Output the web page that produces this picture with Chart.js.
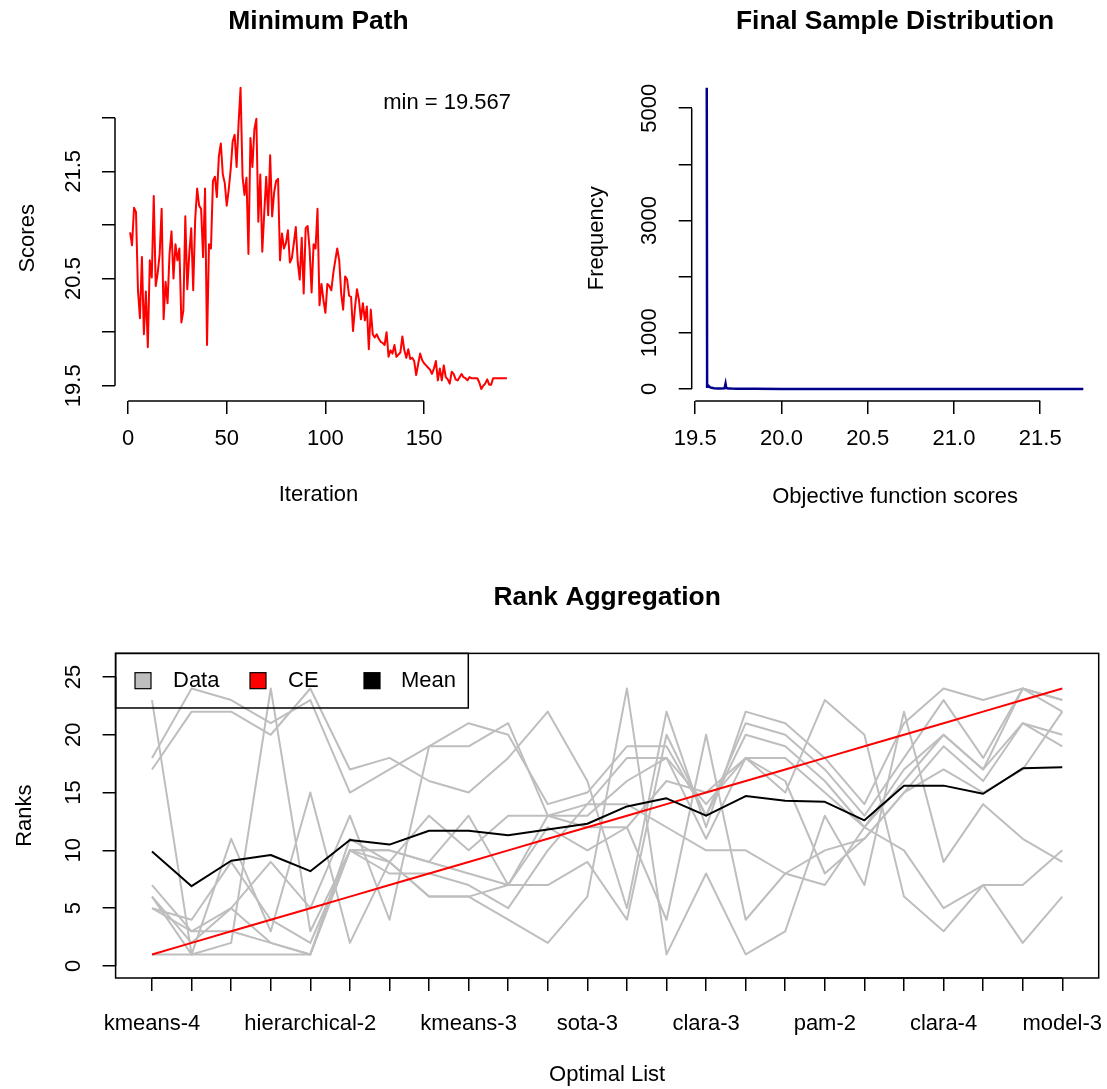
<!DOCTYPE html>
<html>
<head>
<meta charset="utf-8">
<title>Rank Aggregation</title>
<script src="https://cdn.jsdelivr.net/npm/chart.js@4.4.1/dist/chart.umd.min.js"></script>
<style>
	html, body {margin:0; padding:0; background:#fff;}
	#page {position:relative; width:1107px; height:1089px;}
	canvas {position:absolute;}
</style>
</head>
<body>
<div id="page">
	<canvas id="pathChart" width="553" height="545" style="left:0;top:0"></canvas>
	<canvas id="distChart" width="554" height="545" style="left:553px;top:0"></canvas>
	<canvas id="rankChart" width="1107" height="544" style="left:0;top:545px"></canvas>
</div>
<script>
//minimum score at each iteration
var minPath = [
	20.93, 20.81, 21.16, 21.12, 20.39, 20.13, 20.70, 19.98, 20.38, 19.86,
	20.67, 20.51, 21.27, 20.43, 20.55, 20.73, 21.15, 20.12, 20.47, 20.27,
	20.73, 20.94, 20.50, 20.82, 20.67, 20.78, 20.09, 20.20, 21.08, 20.40,
	20.73, 20.97, 20.39, 21.05, 21.34, 21.18, 21.15, 20.70, 21.34, 19.88,
	20.82, 20.78, 21.41, 21.45, 21.26, 21.64, 21.76, 21.47, 21.39, 21.18,
	21.33, 21.52, 21.78, 21.84, 21.54, 21.95, 22.28, 21.45, 21.28, 21.44,
	20.73, 21.81, 21.54, 21.89, 21.99, 21.03, 21.47, 20.75, 21.11, 21.45,
	21.09, 21.65, 21.08, 21.30, 21.41, 21.43, 20.67, 20.92, 20.78, 20.83,
	20.95, 20.65, 20.69, 20.83, 20.98, 20.65, 20.49, 20.88, 20.36, 20.97,
	20.99, 20.77, 20.37, 20.82, 20.78, 21.15, 20.25, 20.45, 20.30, 20.18,
	20.45, 20.43, 20.39, 20.55, 20.67, 20.78, 20.67, 20.36, 20.21, 20.52,
	20.49, 20.34, 20.33, 20.01, 20.23, 20.40, 20.30, 20.12, 20.27, 20.11,
	20.24, 19.84, 20.21, 19.98, 19.95, 19.98, 19.94, 19.91, 19.90, 19.88,
	20.00, 19.77, 19.83, 19.80, 19.88, 19.77, 19.79, 19.81, 19.96, 19.83,
	19.76, 19.84, 19.75, 19.76, 19.73, 19.60, 19.70, 19.80, 19.74, 19.71,
	19.69, 19.67, 19.65, 19.61, 19.66, 19.73, 19.55, 19.66, 19.55, 19.69,
	19.58, 19.56, 19.52, 19.63, 19.61, 19.56, 19.55, 19.58, 19.61, 19.58,
	19.57, 19.55, 19.58, 19.57, 19.57, 19.57, 19.57, 19.53, 19.47, 19.50,
	19.52, 19.56, 19.51, 19.51, 19.57, 19.57, 19.57, 19.57, 19.57, 19.57,
	19.57, 19.57
];
var minNote = 'min = 19.567';
var iterTicks = [0, 50, 100, 150];
var scoreTicks = [19.5, 20.0, 20.5, 21.0, 21.5, 22.0];
var scoreLabels = [19.5, 20.5, 21.5];

//final sample: score and how often it was seen
var sampleScores = [19.567, 19.569, 19.572, 19.578, 19.585, 19.595, 19.61, 19.63, 19.65, 19.67, 19.676, 19.68, 19.69, 19.71, 19.74, 19.78, 19.85, 20.0, 20.5, 21.0, 21.5, 21.75];
var sampleFreq = [5364, 40, 70, 55, 30, 20, 14, 10, 8, 12, 95, 20, 10, 6, 4, 3, 2, 1, 1, 1, 1, 1];
var objTicks = [19.5, 20.0, 20.5, 21.0, 21.5];
var freqTicks = [0, 1000, 2000, 3000, 4000, 5000];
var freqLabels = [0, 1000, 3000, 5000];

//rank aggregation, one array per input list
var listNames = ['kmeans-4', '', '', '', 'hierarchical-2', '', '', '', 'kmeans-3', '', '', 'sota-3',
	'', '', 'clara-3', '', '', 'pam-2', '', '', 'clara-4', '', '', 'model-3'];
var list1 = [23, 1, 11, 3, 15, 2, 9, 13, 10, 13, 13, 13, 16, 18, 11, 18, 16, 8, 11, 15, 19, 16, 21, 19];
var list2 = [18, 24, 23, 21, 23, 15, 17, 19, 21, 20, 14, 15, 19, 19, 13, 20, 19, 16, 12, 17, 20, 17, 24, 23];
var list3 = [17, 22, 22, 20, 24, 17, 18, 16, 15, 18, 22, 16, 5, 22, 12, 22, 21, 18, 14, 21, 24, 23, 24, 23];
var list4 = [7, 3, 5, 9, 5, 13, 4, 19, 19, 21, 13, 14, 14, 12, 10, 10, 8, 7, 12, 10, 5, 7, 2, 6];
var list5 = [6, 1, 2, 24, 3, 10, 10, 9, 13, 7, 12, 10, 12, 16, 15, 18, 15, 23, 20, 6, 3, 7, 7, 10];
var list6 = [6, 2, 5, 2, 1, 11, 9, 6, 6, 4, 2, 6, 24, 1, 8, 1, 3, 13, 7, 22, 9, 14, 11, 9];
var list7 = [5, 4, 9, 4, 2, 10, 8, 8, 7, 5, 10, 14, 18, 18, 14, 18, 18, 15, 12, 16, 20, 17, 21, 20];
var list8 = [5, 3, 3, 2, 1, 10, 10, 9, 8, 7, 7, 9, 4, 20, 13, 21, 20, 17, 13, 18, 23, 18, 24, 22];
var list9 = [1, 1, 1, 1, 1, 10, 9, 6, 6, 7, 13, 12, 12, 4, 20, 4, 8, 10, 11, 15, 17, 15, 17, 22];
var ceRanks = [1, 2, 3, 4, 5, 6, 7, 8, 9, 10, 11, 12, 13, 14, 15, 16, 17, 18, 19, 20, 21, 22, 23, 24];
var meanRanks = [9.9, 6.9, 9.1, 9.6, 8.2, 10.9, 10.5, 11.7, 11.7, 11.3, 11.8, 12.3, 13.8, 14.5, 13.0, 14.7, 14.3, 14.2, 12.6, 15.6, 15.6, 14.9, 17.1, 17.2];
var rankTicks = [0, 5, 10, 15, 20, 25];
var rankLegend = [
	{label:'Data', color:'#BEBEBE'},
	{label:'CE', color:'#FF0000'},
	{label:'Mean', color:'#000000'}
];

var FONT = "'Liberation Sans', Arial, Helvetica, sans-serif";
Chart.defaults.font.family = FONT;
Chart.defaults.font.size = 22;
Chart.defaults.color = '#000';
Chart.defaults.animation = false;
Chart.defaults.plugins.legend.display = false;
Chart.defaults.plugins.tooltip.enabled = false;

//R pads the data range by 4% on each side
function rRange(lo, hi) {
	var d = (hi - lo) * 0.04;
	return [lo - d, hi + d];
}
function fixSize(px) {
	return function (s) {
		if (s.isHorizontal()) s.height = px; else s.width = px;
		s.paddingLeft = s.paddingRight = s.paddingTop = s.paddingBottom = 0;
	};
}
function useTicks(vals) {
	return function (s) {
		s.ticks = vals.map(function (v) { return {value:v}; });
	};
}
function toPoints(xs, ys) {
	return ys.map(function (v, i) { return {x:xs[i], y:v}; });
}
function seq(n) {
	var a = [];
	for (var i = 1; i <= n; i++) a.push(i);
	return a;
}
//axis line only from first to last tick, like R
var rAxisLine = {
	id:'rAxisLine',
	afterDraw:function (chart) {
		var ctx = chart.ctx;
		ctx.save();
		ctx.strokeStyle = '#000';
		ctx.lineWidth = 1.5;
		['x', 'y'].forEach(function (id) {
			var s = chart.scales[id];
			var t = s.ticks;
			var a = s.getPixelForValue(t[0].value);
			var b = s.getPixelForValue(t[t.length - 1].value);
			ctx.beginPath();
			if (id === 'x') { ctx.moveTo(a, s.top); ctx.lineTo(b, s.top); }
			else { ctx.moveTo(s.right, a); ctx.lineTo(s.right, b); }
			ctx.stroke();
		});
		ctx.restore();
	}
};
var cornerNote = {
	id:'cornerNote',
	afterDraw:function (chart, args, opts) {
		if (!opts.text) return;
		var ctx = chart.ctx, a = chart.chartArea;
		ctx.save();
		ctx.font = '22px ' + FONT;
		ctx.fillStyle = '#000';
		ctx.textAlign = 'right';
		ctx.textBaseline = 'middle';
		ctx.fillText(opts.text, a.right - 11, a.top + 27);
		ctx.restore();
	}
};
var boxLegend = {
	id:'boxLegend',
	afterDraw:function (chart, args, opts) {
		var ctx = chart.ctx, a = chart.chartArea;
		ctx.save();
		ctx.strokeStyle = '#000';
		ctx.lineWidth = 1.5;
		ctx.strokeRect(a.left, a.top, a.right - a.left, a.bottom - a.top);
		ctx.strokeRect(a.left, a.top, opts.width, opts.height);
		ctx.font = '22px ' + FONT;
		ctx.textBaseline = 'middle';
		ctx.textAlign = 'left';
		var cy = a.top + opts.height / 2;
		opts.items.forEach(function (it, i) {
			var x = a.left + opts.boxX[i];
			ctx.fillStyle = it.color;
			ctx.fillRect(x, cy - 8, 16, 16);
			ctx.lineWidth = 1.2;
			ctx.strokeRect(x, cy - 8, 16, 16);
			ctx.fillStyle = '#000';
			ctx.fillText(it.label, a.left + opts.textX[i], cy);
		});
		ctx.restore();
	}
};
function axisOpts(extra) {
	var o = {
		type:'linear',
		border:{display:false},
		grid:{drawOnChartArea:false, tickLength:13, color:'#000', lineWidth:1.5}
	};
	for (var k in extra) o[k] = extra[k];
	return o;
}
function pickLabel(list, digits) {
	return function (v) {
		return list.some(function (s) { return Math.abs(s - v) < 1e-6; }) ? v.toFixed(digits) : '';
	};
}

//Minimum Path
var pathY = rRange(Math.min.apply(null, minPath), Math.max.apply(null, minPath));
var pathX = rRange(1, minPath.length);
new Chart(document.getElementById('pathChart'), {
	type:'line',
	data:{
		datasets:[{
			data:toPoints(seq(minPath.length), minPath),
			borderColor:'#FF0000',
			borderWidth:2,
			pointRadius:0,
			borderJoinStyle:'round'
		}]
	},
	options:{
		responsive:false,
		layout:{padding:{left:0, right:31, top:0, bottom:0}},
		plugins:{
			title:{display:true, text:'Minimum Path', fullSize:false, font:{size:26.4, weight:'bold'}, padding:{top:6, bottom:38}},
			cornerNote:{text:minNote}
		},
		scales:{
			x:axisOpts({min:pathX[0], max:pathX[1], afterFit:fixSize(144), afterBuildTicks:useTicks(iterTicks),
				ticks:{padding:12, maxRotation:0, autoSkip:false},
				title:{display:true, text:'Iteration', padding:{bottom:37}}}),
			y:axisOpts({min:pathY[0], max:pathY[1], afterFit:fixSize(115), afterBuildTicks:useTicks(scoreTicks),
				ticks:{minRotation:90, crossAlign:'center', padding:7, autoSkip:false, callback:pickLabel(scoreLabels, 1)},
				title:{display:true, text:'Scores', padding:{top:15}}})
		}
	},
	plugins:[rAxisLine, cornerNote]
});

//Final Sample Distribution
var distX = rRange(sampleScores[0], sampleScores[sampleScores.length - 1]);
var distY = rRange(0, Math.max.apply(null, sampleFreq));
new Chart(document.getElementById('distChart'), {
	type:'line',
	data:{
		datasets:[{
			data:toPoints(sampleScores, sampleFreq),
			borderColor:'#00008B',
			borderWidth:2.5,
			pointRadius:0
		}]
	},
	options:{
		responsive:false,
		layout:{padding:{left:0, right:8.6, top:0, bottom:0}},
		plugins:{
			title:{display:true, text:'Final Sample Distribution', fullSize:false, font:{size:26.4, weight:'bold'}, padding:{top:6, bottom:38}}
		},
		scales:{
			x:axisOpts({min:distX[0], max:distX[1], afterFit:fixSize(144), afterBuildTicks:useTicks(objTicks),
				ticks:{padding:12, maxRotation:0, autoSkip:false, callback:function (v) { return v.toFixed(1); }},
				title:{display:true, text:'Objective function scores', padding:{bottom:35}}}),
			y:axisOpts({min:distY[0], max:distY[1], afterFit:fixSize(138.7), afterBuildTicks:useTicks(freqTicks),
				ticks:{minRotation:90, crossAlign:'center', padding:4, autoSkip:false, callback:pickLabel(freqLabels, 0)},
				title:{display:true, text:'Frequency', padding:{top:31}}})
		}
	},
	plugins:[rAxisLine]
});

//Rank Aggregation
var positions = seq(ceRanks.length);
var rankX = rRange(1, ceRanks.length);
var rankY = rRange(0, 26);
var rankSets = [list1, list2, list3, list4, list5, list6, list7, list8, list9].map(function (l) {
	return {label:'Data', data:toPoints(positions, l), borderColor:'#BEBEBE', borderWidth:2, pointRadius:0, order:2, borderJoinStyle:'round'};
});
rankSets.push({label:'CE', data:toPoints(positions, ceRanks), borderColor:'#FF0000', borderWidth:2, pointRadius:0, order:1});
rankSets.push({label:'Mean', data:toPoints(positions, meanRanks), borderColor:'#000000', borderWidth:2, pointRadius:0, order:0, borderJoinStyle:'round'});
new Chart(document.getElementById('rankChart'), {
	type:'line',
	data:{datasets:rankSets},
	options:{
		responsive:false,
		layout:{padding:{left:0, right:8.3, top:0, bottom:0}},
		plugins:{
			title:{display:true, text:'Rank Aggregation', fullSize:false, font:{size:26.4, weight:'bold'}, padding:{top:37.2, bottom:39.5}},
			boxLegend:{items:rankLegend, width:352.7, height:54.6, boxX:[19.4, 134.4, 248.4], textX:[57.4, 172.4, 285.4]}
		},
		scales:{
			x:axisOpts({min:rankX[0], max:rankX[1], afterFit:fixSize(111), afterBuildTicks:useTicks(positions),
				ticks:{padding:20, maxRotation:0, autoSkip:false, callback:function (v) { return listNames[v - 1] || ''; }},
				title:{display:true, text:'Optimal List', padding:{bottom:1}}}),
			y:axisOpts({min:rankY[0], max:rankY[1], afterFit:fixSize(115.6), afterBuildTicks:useTicks(rankTicks),
				ticks:{minRotation:90, crossAlign:'center', padding:16, autoSkip:false},
				title:{display:true, text:'Ranks', padding:{top:12}}})
		}
	},
	plugins:[rAxisLine, boxLegend]
});
</script>
</body>
</html>
